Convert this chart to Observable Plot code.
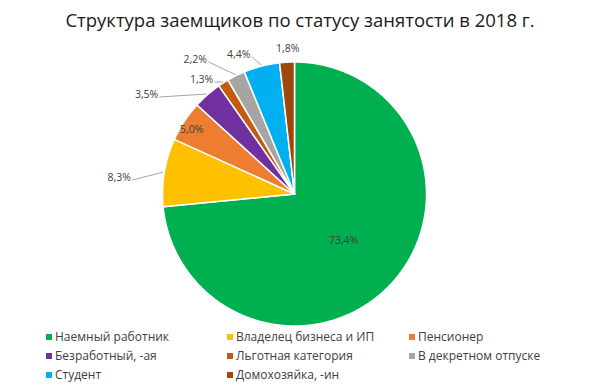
<!DOCTYPE html>
<html><head><meta charset="utf-8">
<script src="https://cdn.jsdelivr.net/npm/d3@7"></script>
<script src="https://cdn.jsdelivr.net/npm/@observablehq/plot@0.6"></script>
<style>
body{margin:0;background:#fff;width:600px;height:392px;overflow:hidden;position:relative;font-family:"Open Sans",sans-serif;}
#chart{position:absolute;left:0;top:0;}
#title{position:absolute;left:0;top:7px;width:600px;text-align:center;font-size:18.5px;color:#1a1a1a;white-space:nowrap;}
.lg{position:absolute;font-size:12px;color:#404040;white-space:nowrap;line-height:14px;}
.sw{position:absolute;left:-9px;top:4px;width:6px;height:6px;}
</style></head><body>
<div id="chart"></div>
<div id="title">Структура заемщиков по статусу занятости в 2018 г.</div>
<div id="legend"></div>
<script>
// ---- data ----
const categories = ["Наемный работник","Владелец бизнеса и ИП","Пенсионер","Безработный, -ая","Льготная категория","В декретном отпуске","Студент","Домохозяйка, -ин"];
const shares = [73.4, 8.3, 5.0, 3.5, 1.3, 2.2, 4.4, 1.8];
const shareLabels = ["73,4%","8,3%","5,0%","3,5%","1,3%","2,2%","4,4%","1,8%"];
// ---- styles / layout ----
const colors = ["#00B050","#FFC000","#ED7D31","#7030A0","#C55A11","#A5A5A5","#00B0F0","#9E480E"];
const cx = 294, cy = 193.5, R = 132;
// label placement: [angle (deg clockwise from top), radius px]
const labelPolar = [[133.8,68],[275.2,176],[301.9,121],[303.8,178],[320.8,147],[323.5,167],[338.2,150],[357.3,146]];
const hasLeader = [false,true,false,true,true,true,true,false];

const rows = categories.map((name,i)=>({name, share: shares[i], label: shareLabels[i]}));
const pie = d3.pie().sort(null).value(d=>d.share)(rows);
const toXY = (a, r) => [cx + r*Math.sin(a), cy - r*Math.cos(a)];

const poly = [];
pie.forEach(s=>{
  const name = s.data.name;
  const n = Math.max(2, Math.ceil((s.endAngle - s.startAngle)/(Math.PI/360)));
  poly.push({name, x:cx, y:cy});
  for(let i=0;i<=n;i++){
    const a = s.startAngle + (s.endAngle - s.startAngle)*i/n;
    const [x,y] = toXY(a,R);
    poly.push({name,x,y});
  }
  poly.push({name, x:cx, y:cy});
});

const labelRows = pie.map((s,i)=>{
  const [x,y] = toXY(labelPolar[i][0]*Math.PI/180, labelPolar[i][1]);
  return {x,y,text:s.data.label};
});
const leaders = pie.map((s,i)=>{
  if(!hasLeader[i]) return null;
  const mid = (s.startAngle+s.endAngle)/2;
  const [x2,y2] = toXY(mid,R+1);
  const l = labelRows[i];
  return {x1:l.x+13, y1:l.y+2, x2, y2};
}).filter(d=>d);

const chart = Plot.plot({
  width:600, height:392, margin:0,
  style:{fontFamily:"Open Sans", background:"transparent"},
  x:{domain:[0,600], range:[0,600], axis:null},
  y:{domain:[0,392], range:[0,392], axis:null},
  color:{domain:categories, range:colors},
  marks:[
    Plot.line(poly,{x:"x",y:"y",z:"name",fill:"name",stroke:"white",strokeWidth:1.5,strokeLinejoin:"round"}),
    Plot.link(leaders,{x1:"x1",y1:"y1",x2:"x2",y2:"y2",stroke:"#a6a6a6",strokeWidth:1}),
    Plot.text(labelRows,{x:"x",y:"y",text:"text",fontSize:10.5,fill:"#404040"})
  ]
});
document.getElementById("chart").appendChild(chart);

// legend
const legendCols = [55, 236, 418], legendRows = [330, 349, 368];
const lg = document.getElementById("legend");
categories.forEach((name,i)=>{
  const d = document.createElement("div");
  d.className="lg";
  d.style.left = legendCols[i%3]+"px";
  d.style.top = legendRows[Math.floor(i/3)]+"px";
  d.innerHTML = `<span class="sw" style="background:${colors[i]}"></span>${name}`;
  lg.appendChild(d);
});
</script>
</body></html>
